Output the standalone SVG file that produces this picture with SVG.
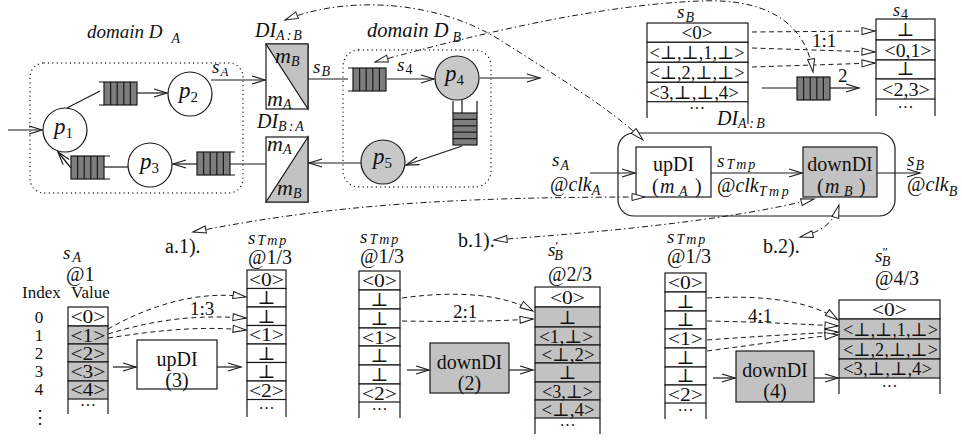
<svg xmlns="http://www.w3.org/2000/svg" width="962" height="441" viewBox="0 0 962 441">
<style>
.ln{fill:none;stroke:#1a1a1a;stroke-width:1.2}
.oa{marker-end:url(#oa)}
.dd{fill:none;stroke:#1a1a1a;stroke-width:1;stroke-dasharray:6 3 1.5 3;marker-start:url(#tri);marker-end:url(#tri)}
.da{fill:none;stroke:#1a1a1a;stroke-width:1;stroke-dasharray:5 3.5;marker-end:url(#tri)}
.dom{fill:none;stroke:#1a1a1a;stroke-width:1.4;stroke-dasharray:0 4.4;stroke-linecap:round}
.w{fill:#fff;stroke:#1a1a1a;stroke-width:1.2}
.g{fill:#c2c2c2;stroke:#1a1a1a;stroke-width:1.2}
.pg{fill:#c8c8c8;stroke:#1a1a1a;stroke-width:1.2}
.t{font-family:"Liberation Serif","DejaVu Serif",serif;fill:#111}
.i{font-style:italic}
.n{font-style:normal}
.c{text-anchor:middle}
.cl{font-size:19px;text-anchor:middle}
.dots{font-size:16px;text-anchor:middle}
</style>
<defs>
<marker id="oa" markerUnits="userSpaceOnUse" viewBox="-15 -6 17 12" markerWidth="17" markerHeight="12" refX="0" refY="0" orient="auto">
<path d="M-13,-4 L0,0 L-13,4" fill="none" stroke="#1a1a1a" stroke-width="1.2"/>
</marker>
<marker id="tri" markerUnits="userSpaceOnUse" viewBox="-15 -5 17 10" markerWidth="17" markerHeight="10" refX="0" refY="0" orient="auto-start-reverse">
<path d="M0,0 L-13,-3.5 L-13,3.5 Z" fill="#fff" stroke="#1a1a1a" stroke-width="1" stroke-dasharray="none"/>
</marker>
<g id="qh"><rect x="0" y="0" width="33" height="23" fill="#7d7d7d" stroke="#1a1a1a" stroke-width="1.2"/><path d="M6.6,0V23M13.2,0V23M19.8,0V23M26.4,0V23" stroke="#1a1a1a" stroke-width="1.2"/></g>
<g id="qv"><rect x="0" y="0" width="24" height="32" fill="#7d7d7d" stroke="#1a1a1a" stroke-width="1.2"/><path d="M0,6.4H24M0,12.8H24M0,19.2H24M0,25.6H24" stroke="#1a1a1a" stroke-width="1.2"/></g>
</defs>
<rect width="962" height="441" fill="#fff"/>

<!-- domain A -->
<g id="domainA">
<rect class="dom" x="30" y="63" width="213" height="130" rx="14"/>
<text class="t i" x="87" y="38" font-size="19">domain D<tspan dx="9" dy="5" font-size="14">A</tspan></text>
</g>
<g id="p1"><circle class="w" cx="65" cy="130" r="22"/><text class="t i" x="54" y="134" font-size="23">p<tspan class="n" dy="4" font-size="15">1</tspan></text></g>
<g id="p2"><circle class="w" cx="190" cy="94" r="22"/><text class="t i" x="179" y="98" font-size="23">p<tspan class="n" dy="4" font-size="15">2</tspan></text></g>
<g id="p3"><circle class="w" cx="150" cy="165" r="22"/><text class="t i" x="140" y="169" font-size="23">p<tspan class="n" dy="4" font-size="15">3</tspan></text></g>
<g id="qA1"><use href="#qh" x="104" y="82"/><path class="ln" d="M99,82H104M99,105H104"/></g>
<g id="qA2"><use href="#qh" x="197" y="152"/><path class="ln" d="M230,152H235M230,175H235"/></g>
<g id="qA3"><use href="#qh" x="71" y="156"/><path class="ln" d="M104,156H110M104,179H110"/></g>

<!-- domain interfaces -->
<g id="DI_AB">
<rect class="w" x="266" y="44" width="42" height="65"/>
<path d="M266,44H308V109Z" fill="#c2c2c2" stroke="#1a1a1a" stroke-width="1.2"/>
<text class="t i" x="255" y="37" font-size="20">DI<tspan dy="3" font-size="14" letter-spacing="2">A:B</tspan></text>
<text class="t i" x="275" y="63" font-size="22">m<tspan dy="3" font-size="14">B</tspan></text>
<text class="t i" x="267" y="106" font-size="22">m<tspan dy="3" font-size="14">A</tspan></text>
</g>
<g id="DI_BA">
<rect class="w" x="266" y="137" width="42" height="65"/>
<path d="M308,137V202H266Z" fill="#c2c2c2" stroke="#1a1a1a" stroke-width="1.2"/>
<text class="t i" x="257" y="128" font-size="20">DI<tspan dy="3" font-size="14" letter-spacing="2">B:A</tspan></text>
<text class="t i" x="267" y="151" font-size="22">m<tspan dy="3" font-size="14">A</tspan></text>
<text class="t i" x="277" y="195" font-size="22">m<tspan dy="3" font-size="14">B</tspan></text>
</g>

<!-- domain B -->
<g id="domainB">
<rect class="dom" x="343" y="50" width="148" height="137" rx="16"/>
<text class="t i" x="367" y="37" font-size="20.5">domain D<tspan dx="4" dy="5" font-size="14">B</tspan></text>
</g>
<g id="p4"><circle class="pg" cx="457" cy="78" r="22"/><text class="t i" x="445" y="81" font-size="23">p<tspan class="n" dy="4" font-size="15">4</tspan></text></g>
<g id="p5"><circle class="pg" cx="383" cy="162" r="22"/><text class="t i" x="373" y="164" font-size="23">p<tspan class="n" dy="4" font-size="15">5</tspan></text></g>
<g id="qB1"><use href="#qh" x="353" y="68"/><path class="ln" d="M348,68H353M348,91H353"/></g>
<g id="qB2"><use href="#qv" x="453" y="113"/><path class="ln" d="M453,101V113M477,101V113"/></g>

<!-- top-right detail: s_B into s_4 -->
<g id="sB_top">
<text class="t i" x="677" y="18" font-size="19">s<tspan dx="1" dy="4" font-size="14">B</tspan></text>
<rect class="w" x="647" y="23" width="101" height="19.3"/>
<rect class="w" x="647" y="42.3" width="101" height="20"/>
<rect class="w" x="647" y="62.3" width="101" height="20"/>
<rect class="w" x="647" y="82.3" width="101" height="19.4"/>
<path class="ln" d="M647,101.7V118M748,101.7V124"/>
<text class="t cl" x="697" y="39">&lt;0&gt;</text>
<text class="t cl" x="697" y="59" textLength="95" lengthAdjust="spacingAndGlyphs">&lt;⊥,⊥,1,⊥&gt;</text>
<text class="t cl" x="697" y="79" textLength="95" lengthAdjust="spacingAndGlyphs">&lt;⊥,2,⊥,⊥&gt;</text>
<text class="t cl" x="694" y="98.5" textLength="90" lengthAdjust="spacingAndGlyphs">&lt;3,⊥,⊥,4&gt;</text>
<text class="t dots" x="697" y="114">···</text>
<text class="t i" x="717" y="125" font-size="20">DI<tspan dy="3" font-size="14" letter-spacing="2.5">A:B</tspan></text>
</g>
<g id="s4_top">
<text class="t i" x="893" y="16" font-size="18">s<tspan class="n" dx="1" dy="3" font-size="14">4</tspan></text>
<rect class="w" x="876" y="19" width="59" height="21"/>
<rect class="w" x="876" y="40" width="59" height="20"/>
<rect class="w" x="876" y="60" width="59" height="19"/>
<rect class="w" x="876" y="79" width="59" height="20"/>
<path class="ln" d="M876,99V116M935,99V116"/>
<text class="t cl" x="905.5" y="36">⊥</text>
<text class="t cl" x="908" y="56.5" textLength="47" lengthAdjust="spacingAndGlyphs">&lt;0,1&gt;</text>
<text class="t cl" x="905.5" y="75">⊥</text>
<text class="t cl" x="906" y="95.5" textLength="48" lengthAdjust="spacingAndGlyphs">&lt;2,3&gt;</text>
<text class="t dots" x="905.5" y="113">···</text>
</g>
<g id="q_top"><use href="#qh" x="797" y="77"/></g>
<text class="t" x="812" y="47" font-size="19">1:1</text>
<text class="t" x="838" y="82" font-size="19">2</text>

<!-- DI internals: upDI / downDI -->
<g id="DI_inner">
<rect class="ln" x="618" y="133" width="277" height="83" rx="16"/>
</g>
<g id="upDI">
<rect class="w" x="636" y="147" width="75" height="50"/>
<text class="t c" x="673.5" y="171" font-size="20">upDI</text>
<text class="t" y="193" font-size="20"><tspan x="652">(</tspan><tspan x="660" class="i">m</tspan><tspan x="679" y="196" class="i" font-size="14">A</tspan><tspan x="695" y="193">)</tspan></text>
</g>
<g id="downDI">
<rect class="g" x="803" y="147" width="74" height="50"/>
<text class="t c" x="840" y="171" font-size="20">downDI</text>
<text class="t" y="193" font-size="20"><tspan x="817">(</tspan><tspan x="825" class="i">m</tspan><tspan x="844" y="196" class="i" font-size="14">B</tspan><tspan x="859" y="193">)</tspan></text>
</g>
<g id="DI_labels">
<text class="t i" x="552" y="166" font-size="19">s<tspan dx="1" dy="4" font-size="14">A</tspan></text>
<text class="t" x="550" y="191" font-size="20">@<tspan class="i">clk</tspan><tspan class="i" dy="4" font-size="14">A</tspan></text>
<text class="t i" x="717" y="167" font-size="19">s<tspan dx="2" dy="2" font-size="14" letter-spacing="2">Tmp</tspan></text>
<text class="t" x="717" y="192" font-size="20">@<tspan class="i">clk</tspan><tspan class="i" dy="4" font-size="14" letter-spacing="2.5">Tmp</tspan></text>
<text class="t i" x="907" y="166" font-size="19">s<tspan dx="1" dy="4" font-size="14">B</tspan></text>
<text class="t" x="907" y="191" font-size="20">@<tspan class="i">clk</tspan><tspan class="i" dy="5" font-size="14">B</tspan></text>
</g>

<!-- a.1) up-sampling example -->
<g id="ex_a1">
<text class="t" x="165" y="253" font-size="20">a.1).</text>
<text class="t i" x="63" y="259" font-size="19">s<tspan dx="2" dy="3" font-size="14">A</tspan></text>
<text class="t" x="66" y="281" font-size="20">@1</text>
<text class="t" x="22" y="298" font-size="17">Index</text>
<text class="t" x="71" y="298" font-size="17">Value</text>
<text class="t c" x="39" y="323" font-size="17">0</text>
<text class="t c" x="39" y="341" font-size="17">1</text>
<text class="t c" x="39" y="359" font-size="17">2</text>
<text class="t c" x="39" y="377" font-size="17">3</text>
<text class="t c" x="39" y="395" font-size="17">4</text>
<text class="t c" x="40" y="423" font-size="18">⋮</text>
</g>
<g id="sA_table">
<rect class="w" x="68" y="307" width="40" height="19"/>
<rect class="g" x="68" y="326" width="40" height="18"/>
<rect class="g" x="68" y="344" width="40" height="18"/>
<rect class="g" x="68" y="362" width="40" height="19"/>
<rect class="g" x="68" y="381" width="40" height="18"/>
<path class="ln" d="M68,399V414M108,399V414"/>
<text class="t cl" x="88" y="323" textLength="35" lengthAdjust="spacingAndGlyphs">&lt;0&gt;</text>
<text class="t cl" x="88" y="341.5" textLength="35" lengthAdjust="spacingAndGlyphs">&lt;1&gt;</text>
<text class="t cl" x="88" y="359.5" textLength="35" lengthAdjust="spacingAndGlyphs">&lt;2&gt;</text>
<text class="t cl" x="88" y="378" textLength="35" lengthAdjust="spacingAndGlyphs">&lt;3&gt;</text>
<text class="t cl" x="88" y="396" textLength="35" lengthAdjust="spacingAndGlyphs">&lt;4&gt;</text>
<text class="t dots" x="88" y="411">···</text>
</g>
<g id="upDI3">
<rect class="w" x="137" y="340" width="80" height="49"/>
<text class="t c" x="177" y="366" font-size="20">upDI</text>
<text class="t c" x="177" y="387" font-size="20">(3)</text>
</g>
<text class="t" x="190" y="315" font-size="19">1:3</text>
<g id="sTmp1">
<text class="t i" x="248" y="244" font-size="19">s<tspan dx="2" dy="1" font-size="14" letter-spacing="2">Tmp</tspan></text>
<text class="t" x="248" y="264" font-size="20">@1/3</text>
<rect class="w" x="247" y="270" width="39" height="18.5"/>
<rect class="w" x="247" y="288.5" width="39" height="18.5"/>
<rect class="w" x="247" y="307" width="39" height="18.5"/>
<rect class="w" x="247" y="325.5" width="39" height="18.5"/>
<rect class="w" x="247" y="344" width="39" height="18.5"/>
<rect class="w" x="247" y="362.5" width="39" height="18.5"/>
<rect class="w" x="247" y="381" width="39" height="18.5"/>
<path class="ln" d="M247,399.5V417M286,399.5V417"/>
<text class="t cl" x="266.5" y="285.5" textLength="35" lengthAdjust="spacingAndGlyphs">&lt;0&gt;</text>
<text class="t cl" x="266.5" y="304">⊥</text>
<text class="t cl" x="266.5" y="322.5">⊥</text>
<text class="t cl" x="266.5" y="341" textLength="35" lengthAdjust="spacingAndGlyphs">&lt;1&gt;</text>
<text class="t cl" x="266.5" y="359.5">⊥</text>
<text class="t cl" x="266.5" y="378">⊥</text>
<text class="t cl" x="266.5" y="396.5" textLength="35" lengthAdjust="spacingAndGlyphs">&lt;2&gt;</text>
<text class="t dots" x="266.5" y="414">···</text>
</g>

<!-- b.1) down-sampling by 2 -->
<g id="ex_b1">
<text class="t" x="458" y="247" font-size="20">b.1).</text>
</g>
<g id="sTmp2">
<text class="t i" x="360" y="243" font-size="19">s<tspan dx="2" dy="1" font-size="14" letter-spacing="2">Tmp</tspan></text>
<text class="t" x="360" y="263" font-size="20">@1/3</text>
<rect class="w" x="359" y="271" width="41" height="19"/>
<rect class="w" x="359" y="290" width="41" height="19"/>
<rect class="w" x="359" y="309" width="41" height="19"/>
<rect class="w" x="359" y="328" width="41" height="18"/>
<rect class="w" x="359" y="346" width="41" height="19"/>
<rect class="w" x="359" y="365" width="41" height="19"/>
<rect class="w" x="359" y="384" width="41" height="18"/>
<path class="ln" d="M359,402V418M400,402V418"/>
<text class="t cl" x="379.5" y="287" textLength="35" lengthAdjust="spacingAndGlyphs">&lt;0&gt;</text>
<text class="t cl" x="379.5" y="306">⊥</text>
<text class="t cl" x="379.5" y="325">⊥</text>
<text class="t cl" x="379.5" y="343.5" textLength="35" lengthAdjust="spacingAndGlyphs">&lt;1&gt;</text>
<text class="t cl" x="379.5" y="362">⊥</text>
<text class="t cl" x="379.5" y="381">⊥</text>
<text class="t cl" x="379.5" y="399.5" textLength="35" lengthAdjust="spacingAndGlyphs">&lt;2&gt;</text>
<text class="t dots" x="379.5" y="415">···</text>
</g>
<g id="downDI2">
<rect class="g" x="430" y="343" width="79" height="50"/>
<text class="t c" x="469.5" y="369" font-size="20">downDI</text>
<text class="t c" x="469.5" y="390" font-size="20">(2)</text>
</g>
<text class="t" x="453" y="318" font-size="19">2:1</text>
<g id="sB1">
<text class="t i" x="548" y="256" font-size="19">s<tspan class="n" dy="-6" font-size="13">′</tspan><tspan dx="-4" dy="10" font-size="14">B</tspan></text>
<text class="t" x="548" y="281" font-size="20">@2/3</text>
<rect class="w" x="535" y="287" width="65" height="20"/>
<rect class="g" x="535" y="307" width="65" height="20"/>
<rect class="g" x="535" y="327" width="65" height="18"/>
<rect class="g" x="535" y="345" width="65" height="18"/>
<rect class="g" x="535" y="363" width="65" height="19"/>
<rect class="g" x="535" y="382" width="65" height="18"/>
<rect class="g" x="535" y="400" width="65" height="18"/>
<path class="ln" d="M535,418V434M600,418V434"/>
<text class="t cl" x="567.5" y="303.5" textLength="35" lengthAdjust="spacingAndGlyphs">&lt;0&gt;</text>
<text class="t cl" x="567.5" y="323.5">⊥</text>
<text class="t cl" x="566" y="342.5" textLength="54" lengthAdjust="spacingAndGlyphs">&lt;1,⊥&gt;</text>
<text class="t cl" x="568" y="360.5" textLength="53" lengthAdjust="spacingAndGlyphs">&lt;⊥,2&gt;</text>
<text class="t cl" x="567.5" y="379">⊥</text>
<text class="t cl" x="567.5" y="397.5" textLength="51" lengthAdjust="spacingAndGlyphs">&lt;3,⊥&gt;</text>
<text class="t cl" x="568" y="415.5" textLength="53" lengthAdjust="spacingAndGlyphs">&lt;⊥,4&gt;</text>
<text class="t dots" x="567.5" y="431">···</text>
</g>

<!-- b.2) down-sampling by 4 -->
<g id="ex_b2">
<text class="t" x="763" y="253" font-size="20">b.2).</text>
</g>
<g id="sTmp3">
<text class="t i" x="667" y="243" font-size="19">s<tspan dx="2" dy="1" font-size="14" letter-spacing="2">Tmp</tspan></text>
<text class="t" x="667" y="263" font-size="20">@1/3</text>
<rect class="w" x="665" y="273" width="41" height="19"/>
<rect class="w" x="665" y="292" width="41" height="19"/>
<rect class="w" x="665" y="311" width="41" height="18"/>
<rect class="w" x="665" y="329" width="41" height="19"/>
<rect class="w" x="665" y="348" width="41" height="19"/>
<rect class="w" x="665" y="367" width="41" height="18"/>
<rect class="w" x="665" y="385" width="41" height="18"/>
<path class="ln" d="M665,403V419M706,403V419"/>
<text class="t cl" x="685.5" y="289" textLength="35" lengthAdjust="spacingAndGlyphs">&lt;0&gt;</text>
<text class="t cl" x="685.5" y="308">⊥</text>
<text class="t cl" x="685.5" y="326">⊥</text>
<text class="t cl" x="685.5" y="345" textLength="35" lengthAdjust="spacingAndGlyphs">&lt;1&gt;</text>
<text class="t cl" x="685.5" y="364">⊥</text>
<text class="t cl" x="685.5" y="382">⊥</text>
<text class="t cl" x="685.5" y="400.5" textLength="35" lengthAdjust="spacingAndGlyphs">&lt;2&gt;</text>
<text class="t dots" x="685.5" y="416">···</text>
</g>
<g id="downDI4">
<rect class="g" x="736" y="351" width="78" height="51"/>
<text class="t c" x="775" y="377" font-size="20">downDI</text>
<text class="t c" x="775" y="398" font-size="20">(4)</text>
</g>
<text class="t" x="748" y="322" font-size="19">4:1</text>
<g id="sB2">
<text class="t i" x="875" y="262" font-size="19">s<tspan class="n" dy="-6" font-size="13">″</tspan><tspan dx="-6" dy="10" font-size="14">B</tspan></text>
<text class="t" x="875" y="285" font-size="20">@4/3</text>
<rect class="w" x="839" y="300" width="101" height="19"/>
<rect class="g" x="839" y="319" width="101" height="20"/>
<rect class="g" x="839" y="339" width="101" height="20"/>
<rect class="g" x="839" y="359" width="101" height="19"/>
<path class="ln" d="M839,378V394M940,378V394"/>
<text class="t cl" x="889.5" y="316" textLength="35" lengthAdjust="spacingAndGlyphs">&lt;0&gt;</text>
<text class="t cl" x="890.5" y="335.5" textLength="95" lengthAdjust="spacingAndGlyphs">&lt;⊥,⊥,1,⊥&gt;</text>
<text class="t cl" x="890.5" y="355.5" textLength="95" lengthAdjust="spacingAndGlyphs">&lt;⊥,2,⊥,⊥&gt;</text>
<text class="t cl" x="887.5" y="375" textLength="89" lengthAdjust="spacingAndGlyphs">&lt;3,⊥,⊥,4&gt;</text>
<text class="t dots" x="889.5" y="392">···</text>
</g>

<!-- connectors -->
<g id="connectors">
<path class="ln oa" d="M8,130H42"/>
<path class="ln" d="M67,108L100,91"/>
<path class="ln oa" d="M137,93H167"/>
<path class="ln oa" d="M211,80H265"/>
<text class="t i" x="212" y="73" font-size="19">s<tspan dx="1" dy="3" font-size="13">A</tspan></text>
<path class="ln" d="M308,79H348"/>
<text class="t i" x="313" y="73" font-size="19">s<tspan dx="1" dy="3" font-size="14">B</tspan></text>
<path class="ln oa" d="M387,79H434"/>
<text class="t i" x="397" y="71" font-size="19">s<tspan class="n" dx="1" dy="3" font-size="14">4</tspan></text>
<path class="ln oa" d="M480,78H540"/>
<path class="ln" d="M462,100V113"/>
<path class="ln oa" d="M462,146L406,165"/>
<path class="ln oa" d="M361,163H309"/>
<path class="ln" d="M266,164H230"/>
<path class="ln oa" d="M197,164H173"/>
<path class="ln" d="M128,167H104"/>
<path class="ln oa" d="M71,168L58,152"/>

<path class="ln" d="M762,88H797"/>
<path class="ln oa" d="M830,88H859"/>
<path class="da" d="M752,32L875,31"/>
<path class="da" d="M752,48L875,52"/>
<path class="da" d="M752,67L875,63"/>

<path class="ln oa" d="M590,173H635"/>
<path class="ln oa" d="M711,173H802"/>
<path class="ln oa" d="M877,173H920"/>

<path class="dd" d="M285,20C350,-6 440,2 500,40C560,78 612,110 643,140"/>
<path class="dd" d="M375,62C480,33 600,5 700,1C770,-2 806,25 813,72"/>
<path class="dd" d="M193,232C330,205 450,197 645,197"/>
<path class="dd" d="M494,240C600,232 720,222 814,199"/>
<path class="dd" d="M800,237C822,232 834,222 839,205"/>

<path class="ln oa" d="M113,367H136"/>
<path class="ln oa" d="M217,367H241"/>
<path class="da" d="M108,329C150,305 200,290 246,297"/>
<path class="da" d="M108,334C160,318 200,315 246,318"/>
<path class="da" d="M108,338C160,330 200,326 246,330"/>

<path class="ln oa" d="M407,370H429"/>
<path class="ln oa" d="M509,370H533"/>
<path class="da" d="M402,298C460,290 505,295 533,311"/>
<path class="da" d="M402,321C460,322 500,321 533,319"/>

<path class="ln oa" d="M713,378H735"/>
<path class="ln oa" d="M814,378H838"/>
<path class="da" d="M707,298C760,295 810,300 838,320"/>
<path class="da" d="M707,321C760,322 800,324 838,326"/>
<path class="da" d="M707,340C760,336 800,334 838,332"/>
<path class="da" d="M707,351C760,344 800,338 838,335"/>
</g>
</svg>
